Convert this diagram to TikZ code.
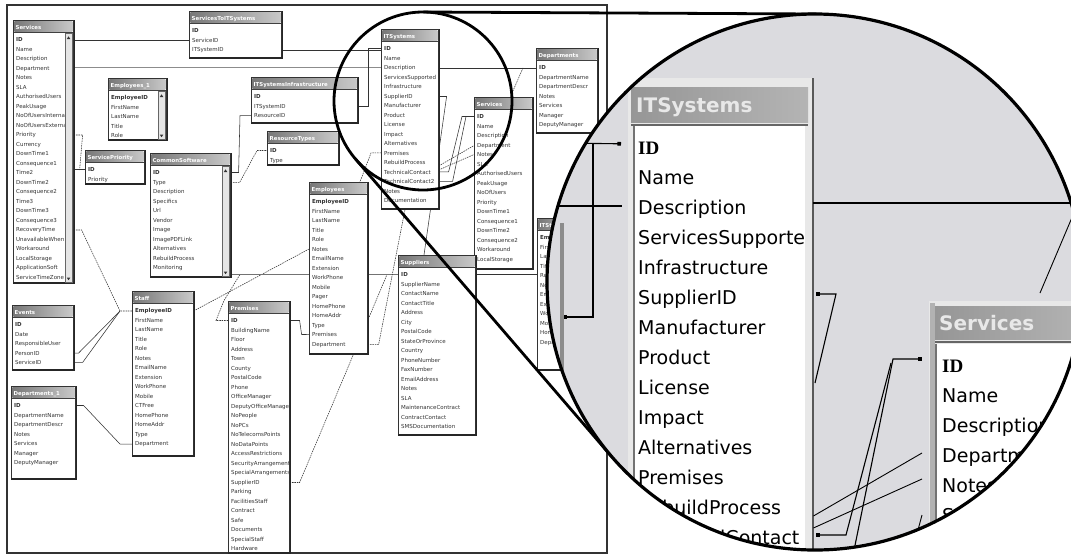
\documentclass[tikz,border=0pt]{standalone}
\usepackage{fontspec}
\setmainfont{DejaVu Sans}
\newfontfamily\idserif{Liberation Serif}
\usetikzlibrary{calc,arrows.meta}
\pgfdeclarelayer{bg}
\pgfsetlayers{bg,main}

\definecolor{circfill}{RGB}{219,219,223}
\definecolor{framegray}{RGB}{232,232,232}
\definecolor{titledark}{RGB}{120,120,120}
\definecolor{titlelight}{RGB}{200,200,200}
\definecolor{bigtitleL}{RGB}{150,150,150}
\definecolor{bigtitleR}{RGB}{180,180,180}
\definecolor{bigtitletext}{RGB}{232,232,232}

\tikzset{
 tabnode/.style={draw=black!80, line width=0.6pt, fill=white, inner sep=0pt, anchor=north west},
 fld/.style={inner sep=0pt, anchor=base west, text=black!80, font=\fontsize{5.5}{6}\selectfont},
 ttl/.style={inner sep=0pt, anchor=base west, text=white, font=\bfseries\fontsize{5.4}{6}\selectfont},
 cn/.style={draw=black!80, line width=0.55pt},
 cnd/.style={cn, dash pattern=on 1.5pt off 0.9pt},
 bigfld/.style={inner sep=0pt, anchor=base west, font=\fontsize{19}{19}\selectfont},
 bigid/.style={inner sep=0pt, anchor=base west, font=\idserif\bfseries\fontsize{19}{19}\selectfont},
 bigttl/.style={inner sep=0pt, anchor=base west, text=bigtitletext, font=\bfseries\fontsize{20}{20}\selectfont},
 bigcn/.style={draw=black, line width=1.1pt},
 lens/.style={draw=black, line width=3.2pt},
 sqend/.style={-{Square[length=3.6pt,width=3.6pt]}},
 sqstart/.style={{Square[length=3.6pt,width=3.6pt]}-},
}

\newcommand\dbtab[8]{%
  \node[tabnode, minimum width=#4pt, minimum height=#5pt] (#1) at (#2,#3) {};
  \draw[black!85, line width=1.1pt] ($(#1.north east)+(0.6,0)$) -- ($(#1.south east)+(0.6,-0.6)$) -- ($(#1.south west)+(0,-0.6)$);
  \shade[left color=titledark, right color=titlelight] ($(#1.north west)+(1.3,1.3)$) rectangle ($(#1.north east)+(-1.3,11.5)$);
  \draw[black!75, line width=0.7pt] ($(#1.north west)+(1,12.2)$) -- ($(#1.north east)+(-1,12.2)$);
  \begin{scope}
    \clip ($(#1.north west)+(1.3,1)$) rectangle ($(#1.south east)+(-1.3,-1)$);
    \node[ttl] at ($(#1.north west)+(2.5,9)$) {#6};
    \foreach \f [count=\i] in {#7} {
      \node[fld] (#1-\i) at ($(#1.north west)+(3,12+\i*9.5)$) {\ifnum\i=1\bfseries\fi\f};
    }
  \end{scope}
  \ifnum#8=1
    \draw[black!60, fill=black!10, line width=0.4pt] ($(#1.north east)+(-8.5,13.5)$) rectangle ($(#1.south east)+(-1.5,-1.5)$);
    \fill[black!80] ($(#1.north east)+(-6.8,19)$) -- ++(3.5,0) -- ++(-1.75,-2.6) -- cycle;
    \fill[black!80] ($(#1.south east)+(-6.8,-6)$) -- ++(3.5,0) -- ++(-1.75,2.6) -- cycle;
  \fi
}

\begin{document}
\begin{tikzpicture}[x=1pt,y=-1pt]
\useasboundingbox (0,0) rectangle (1071,558);
\begin{pgfonlayer}{bg}
  \fill[white] (0,0) rectangle (1071,558);
  \draw[black!80, line width=1.4pt] (7,5) rectangle (607,553);
\end{pgfonlayer}

% ---------- small tables ----------
\dbtab{svcA}{13}{20}{60}{263}{Services}{ID,Name,Description,Department,Notes,SLA,AuthorisedUsers,PeakUsage,NoOfUsersInternal,NoOfUsersExternal,Priority,Currency,DownTime1,Consequence1,Time2,DownTime2,Consequence2,Time3,DownTime3,Consequence3,RecoveryTime,UnavailableWhen,Workaround,LocalStorage,ApplicationSoft,ServiceTimeZone}{1}
\dbtab{s2it}{189}{11}{92}{47}{ServicesToITSystems}{ID,ServiceID,ITSystemID}{0}
\dbtab{its}{381}{29}{57}{180}{ITSystems}{ID,Name,Description,ServicesSupported,Infrastructure,SupplierID,Manufacturer,Product,License,Impact,Alternatives,Premises,RebuildProcess,TechnicalContact,TechnicalContact2,Notes,Documentation}{0}
\dbtab{dep}{536}{48}{61}{85}{Departments}{ID,DepartmentName,DepartmentDescr,Notes,Services,Manager,DeputyManager}{0}
\dbtab{svcB}{474}{97}{58}{172}{Services}{ID,Name,Description,Department,Notes,SLA,AuthorisedUsers,PeakUsage,NoOfUsers,Priority,DownTime1,Consequence1,DownTime2,Consequence2,Workaround,LocalStorage}{0}
\dbtab{emp1}{108}{78}{58}{62}{Employees\_1}{EmployeeID,FirstName,LastName,Title,Role}{1}
\dbtab{spri}{85}{150}{59}{34}{ServicePriority}{ID,Priority}{0}
\dbtab{csw}{150}{153}{80}{124}{CommonSoftware}{ID,Type,Description,Specifics,Url,Vendor,Image,ImagePDFLink,Alternatives,RebuildProcess,Monitoring}{1}
\dbtab{itinf}{251}{77}{106}{46}{ITSystemsInfrastructure}{ID,ITSystemID,ResourceID}{0}
\dbtab{rtype}{267}{131}{71}{34}{ResourceTypes}{ID,Type}{0}
\dbtab{emps}{309}{182}{58}{172}{Employees}{EmployeeID,FirstName,LastName,Title,Role,Notes,EmailName,Extension,WorkPhone,Mobile,Pager,HomePhone,HomeAddr,Type,Premises,Department}{0}
\dbtab{sup}{398}{255}{77}{180}{Suppliers}{ID,SupplierName,ContactName,ContactTitle,Address,City,PostalCode,StateOrProvince,Country,PhoneNumber,FaxNumber,EmailAddress,Notes,SLA,MaintenanceContract,ContractContact,SMSDocumentation}{0}
\dbtab{staff}{132}{291}{61}{165}{Staff}{EmployeeID,FirstName,LastName,Title,Role,Notes,EmailName,Extension,WorkPhone,Mobile,CTFree,HomePhone,HomeAddr,Type,Department}{0}
\dbtab{evt}{12}{305}{61}{65}{Events}{ID,Date,ResponsibleUser,PersonID,ServiceID}{0}
\dbtab{dep1}{11}{386}{64}{93}{Departments\_1}{ID,DepartmentName,DepartmentDescr,Notes,Services,Manager,DeputyManager}{0}
\dbtab{prem}{228}{301}{61}{252}{Premises}{ID,BuildingName,Floor,Address,Town,County,PostalCode,Phone,OfficeManager,DeputyOfficeManager,NoPeople,NoPCs,NoTelecomsPoints,NoDataPoints,AccessRestrictions,SecurityArrangements,SpecialArrangements,SupplierID,Parking,FacilitiesStaff,Contract,Safe,Documents,SpecialStaff,Hardware}{0}
\dbtab{hid}{537}{218}{48}{152}{ITStaff}{EmployeeID,FirstName,LastName,Title,Role,Notes,EmailName,Extension,WorkPhone,Mobile,HomePhone,Department}{1}

% ---------- small connectors (behind tables) ----------
\begin{pgfonlayer}{bg}
\draw[cn] (svcA.east |- s2it-2) -- (s2it.west |- s2it-2);
\draw[cn, black!45, line width=1pt] (svcA.east |- its-3) -- (its.west |- its-3);
\draw[cn] (s2it.east |- s2it-3) -- (its.west |- s2it-3);
\draw[cn] (itinf.east |- itinf-2) -- ++(11,0) |- (its.west |- its-1);
\draw[cnd] (svcA.east |- svcA-11) -- ++(9,0) -- ++(-3,35);
\draw[cn] (svcA.east |- spri-1) -- (spri.west |- spri-1);
\coordinate (jn1) at ($(staff.west |- staff-1)+(-12,0)$);
\draw[cnd] (svcA.east |- svcA-21) -- ++(8,0) -- (jn1) -- (staff.west |- staff-1);
\draw[cn] (evt.east |- evt-4) -- ++(5,0) -- (jn1);
\draw[cn] (evt.east |- evt-5) -- ++(9,0) -- (jn1);
\draw[cn] (dep1.east |- dep1-1) -- ++(8,0) -- ($(staff.west |- staff-15)+(-12,0)$) -- (staff.west |- staff-15);
\draw[cn] (csw.east |- csw-1) -- ++(8,0) -- ($(itinf.west |- itinf-3)+(-11,0)$) -- (itinf.west |- itinf-3);
\draw[cnd] (csw.east |- csw-2) -- ++(9,0) -- ($(rtype.west |- rtype-1)+(-10,0)$) -- (rtype.west |- rtype-1);
\draw[cnd] (emps.west |- emps-6) -- (staff.east |- staff-1);
\draw[cnd] (prem.west |- prem-1) -- ++(-12,0) -- ++(8,-20) -- ++(16,-26);
\draw[cn] (prem.east |- prem-1) -- ++(10,0) -- ++(2,14) -- (emps.west |- emps-15);
\draw[cnd] (prem.east |- prem-18) -- ++(10,0) -- ($(sup.west |- sup-1)+(-11,0)$) -- (sup.west |- sup-1);
\draw[cn, black!55] (csw.east |- sup-1) -- (sup.west |- sup-1);
\draw[cn] (sup.east |- sup-1) -- (hid.west |- sup-1);
\draw[cnd] (emps.east |- emps-16) -- ++(11,0) -- ($(its.south west)+(24,0)$);
\draw[cn] (its.east |- its-6) -- ++(8,0) -- ($(sup.north west)+(26,0)$);
\draw[cn] (its.east |- its-14) -- ++(10,0) -- ($(svcB.west |- svcB-1)+(-12,0)$) -- (svcB.west |- svcB-1);
\draw[cn] (its.east |- its-15) -- ++(14,0) -- ($(svcB.west |- svcB-1)+(-8,0)$);
\draw[cnd] (its.east |- 0,166) -- (svcB.west |- svcB-4);
\draw[cnd] (its.east |- 0,170) -- (svcB.west |- svcB-5);
\draw[cn] (its.east |- its-3) -- (dep.west |- its-3);
\draw[cnd] ($(dep.west |- its-3)+(-13,0)$) -- ++(-11,25);
\draw[cnd] (its.west |- its-12) -- ++(-10,0) -- ++(-16,42);
\end{pgfonlayer}

% ---------- lens: small circle and tangents ----------
\draw[lens, line width=2.8pt] (423,101) circle[radius=89pt];
\draw[lens, line width=2.8pt] (423.4,12) -- (816.4,14);
\draw[lens, line width=2.8pt] (355.5,159) -- (611.8,456.8);

% ---------- magnified view ----------
\begin{scope}
\clip (815,282) circle[radius=268pt];
\fill[circfill] (540,0) rectangle (1090,570);
% ITSystems (big)
\node[inner sep=0pt, anchor=north west, fill=framegray, minimum width=185pt, minimum height=490pt] (bigits) at (628,78) {};
\draw[black!65, line width=2pt] (bigits.north east) -- (bigits.south east);
\shade[left color=bigtitleL, right color=bigtitleR] (631,87) rectangle (808,122);
\node[bigttl] (bigitsT) at (636,112) {ITSystems};
\draw[black!60, line width=2pt] (631,124.5) -- (808,124.5);
\fill[white] (635,126) rectangle (805,570);
\draw[black!55, line width=1.6pt] (634.2,126) -- (634.2,570);
\node[bigid] (bigits-1) at (638,154) {ID};
\foreach \f [count=\i from 2] in {Name,Description,ServicesSupporte,Infrastructure,SupplierID,Manufacturer,Product,License,Impact,Alternatives,Premises,RebuildProcess,TechnicalContact}
  \node[bigfld] (bigits-\i) at (638,124+30*\i) {\f};
% Services (big)
\node[inner sep=0pt, anchor=north west, fill=framegray, minimum width=170pt, minimum height=270pt] (bigsvc) at (929,301) {};
\fill[black!30] (930,303) rectangle (934.5,570);
\shade[left color=bigtitleL, right color=bigtitleR] (935,306) rectangle (1090,339);
\node[bigttl] (bigsvcT) at (939,330) {Services};
\draw[black!60, line width=2pt] (935,342) -- (1090,342);
\fill[white] (937,344) rectangle (1090,570);
\draw[black!55, line width=1.6pt] (936.2,344) -- (936.2,570);
\node[bigid] (bigsvc-1) at (942,372) {ID};
\foreach \f [count=\i from 2] in {Name,Description,Department,Notes,SLA}
  \node[bigfld] (bigsvc-\i) at (942,342+30*\i) {\f};
% magnified connectors
\coordinate (mA) at ($(bigits.west |- bigits-1)+(-7,-4)$);
\draw[bigcn, sqend] (560,143) -- (mA);
\coordinate (mB) at (563,317);
\draw[bigcn, sqend] (593,143) -- (593,317) -- (mB);
\draw[bigcn] (540,206) -- ($(bigits.west |- 0,206)+(-6,0)$);
\fill[black!45] (559.5,223) rectangle (563.5,372);
\draw[bigcn] (bigits.east |- 0,203) -- (1090,203);
\draw[bigcn, sqstart] ($(bigits.east |- 0,294)+(3,0)$) -- (836,294) -- (815,383);
\draw[bigcn, sqstart] ($(bigsvc.west |- 0,359)+(-7,0)$) -- (893,359) -- (851,565);
\draw[bigcn, sqstart] ($(bigits.east |- 0,535)+(3,0)$) -- (846,535) -- (891,363);
\draw[bigcn, line width=0.9pt] (bigits.east |- 0,516) -- ($(bigsvc.west |- 0,453)+(-7,0)$);
\draw[bigcn, line width=0.9pt] (bigits.east |- 0,528) -- ($(bigsvc.west |- 0,479)+(-7,0)$);
\draw[bigcn, line width=0.9pt] (922,515) -- (918,530);
\draw[bigcn, line width=0.9pt] (1040,293) -- (1076,208);
\end{scope}
\draw[lens] (815,282) circle[radius=268pt];
\end{tikzpicture}
\end{document}
